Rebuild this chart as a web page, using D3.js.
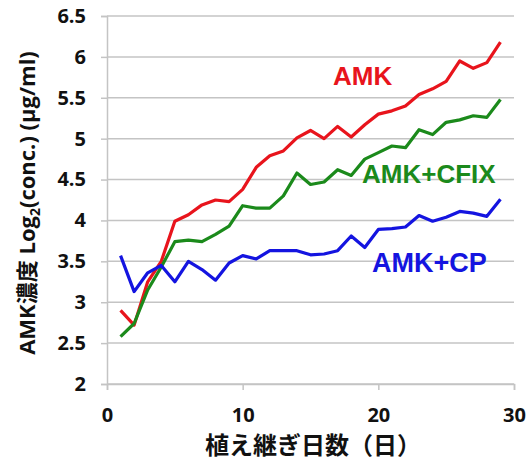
<!DOCTYPE html>
<html><head><meta charset="utf-8">
<script src="https://cdn.jsdelivr.net/npm/d3@7"></script>
<style>
body{margin:0;background:#fff;}
svg{display:block;}
</style></head>
<body>
<svg id="c" width="532" height="462"></svg>
<script>
const days = d3.range(1, 30);
const amk = [2.9,2.72,3.25,3.5,3.99,4.07,4.19,4.25,4.23,4.38,4.65,4.79,4.85,5.01,5.1,5.0,5.15,5.02,5.17,5.3,5.34,5.4,5.54,5.61,5.7,5.95,5.86,5.93,6.18];
const amkCfix = [2.58,2.74,3.15,3.43,3.74,3.76,3.74,3.83,3.93,4.18,4.15,4.15,4.3,4.58,4.44,4.47,4.62,4.55,4.75,4.83,4.91,4.89,5.11,5.05,5.2,5.23,5.28,5.26,5.48];
const amkCp = [3.57,3.13,3.36,3.45,3.25,3.5,3.4,3.27,3.48,3.57,3.53,3.63,3.63,3.63,3.58,3.59,3.63,3.81,3.67,3.89,3.9,3.92,4.06,3.99,4.04,4.11,4.09,4.05,4.26];
const yTicks = [2,2.5,3,3.5,4,4.5,5,5.5,6,6.5];
const xTicks = [0,10,20,30];
const seriesNames = ["AMK","AMK+CFIX","AMK+CP"];
const colors = ["#e8141c","#1b8a1b","#1414e0"];

const svg = d3.select("#c");
const x = d3.scaleLinear().domain([0,30]).range([107,514]);
const y = d3.scaleLinear().domain([2,6.5]).range([384,16]);
const grid = "#c4c4c4";
const tickFont = "'Open Sans', 'DejaVu Sans', sans-serif";

// gridlines
svg.append("g").selectAll("line").data(yTicks).join("line")
  .attr("x1", x(0)).attr("x2", x(30))
  .attr("y1", d=>y(d)).attr("y2", d=>y(d))
  .attr("stroke", grid).attr("stroke-width", 1.5);

// y axis
const ya = svg.append("g").attr("transform", `translate(${x(0)},0)`)
  .call(d3.axisLeft(y).tickValues(yTicks).tickSize(6).tickPadding(15).tickFormat(d=>String(d)));
ya.select(".domain").attr("stroke", grid).attr("stroke-width", 1.5);
ya.selectAll(".tick line").attr("stroke", grid).attr("stroke-width", 1.5);
ya.selectAll("text").attr("font-family", tickFont).attr("font-weight", 700).attr("font-size", 20).attr("fill", "#111");

// x axis
const xa = svg.append("g").attr("transform", `translate(0,${y(2)})`)
  .call(d3.axisBottom(x).tickValues(xTicks).tickSize(6).tickPadding(18).tickFormat(d=>String(d)));
xa.select(".domain").attr("stroke", grid).attr("stroke-width", 1.5);
xa.selectAll(".tick line").attr("stroke", grid).attr("stroke-width", 1.5);
xa.selectAll("text").attr("font-family", tickFont).attr("font-weight", 700).attr("font-size", 20).attr("fill", "#111");

// lines
const line = d3.line().x((d,i)=>x(days[i])).y(d=>y(d));
[amk, amkCfix, amkCp].forEach((s,i)=>{
  svg.append("path").datum(s).attr("d", line)
    .attr("fill","none").attr("stroke", colors[i]).attr("stroke-width", 3.2)
    .attr("stroke-linejoin","round");
});

// series labels
const lab = [
  {t:seriesNames[0], x:333, y:85, s:26},
  {t:seriesNames[1], x:362, y:183, s:26},
  {t:seriesNames[2], x:372, y:272, s:27}
];
svg.append("g").selectAll("text").data(lab).join("text")
  .attr("x", d=>d.x).attr("y", d=>d.y)
  .attr("font-family","'Liberation Sans', Arial, sans-serif").attr("font-weight",700)
  .attr("font-size", d=>d.s).attr("fill", (d,i)=>colors[i]).text(d=>d.t);

// axis titles
const yt = svg.append("text")
  .attr("transform", "translate(35,203) rotate(-90)")
  .attr("text-anchor","middle")
  .attr("font-family", "'Open Sans', 'Noto Sans CJK JP', sans-serif")
  .attr("font-weight",700).attr("font-size",22).attr("fill","#111");
yt.append("tspan").text("AMK");
yt.append("tspan").attr("font-family","'Noto Sans CJK JP', sans-serif").text("濃度");
yt.append("tspan").text(" Log");
yt.append("tspan").attr("font-size",14).attr("dy",5).text("2");
yt.append("tspan").attr("dy",-5).text("(conc.) (μg/ml)");

svg.append("text").attr("x", 313).attr("y", 454).attr("text-anchor","middle")
  .attr("font-family","'Noto Sans CJK JP', sans-serif").attr("font-weight",700)
  .attr("font-size",24).attr("fill","#111").text("植え継ぎ日数（日）");
</script>
</body></html>
